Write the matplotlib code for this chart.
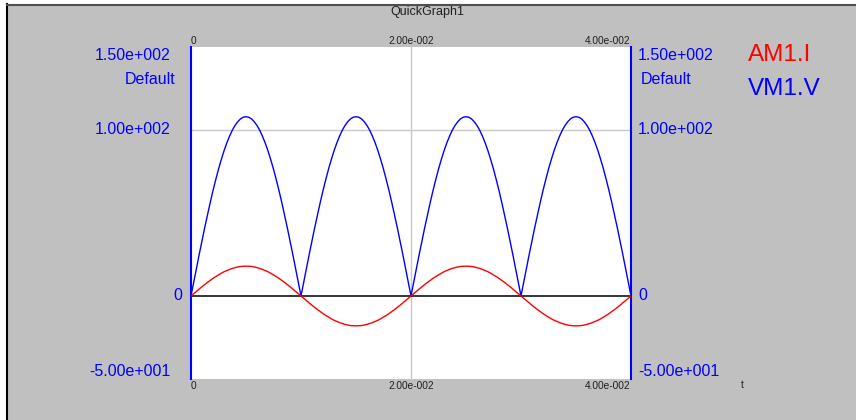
import matplotlib
matplotlib.use("Agg")
import matplotlib.pyplot as plt
from matplotlib.lines import Line2D
from matplotlib.patches import Rectangle

plt.rcParams['font.family'] = ['Liberation Sans', 'DejaVu Sans']

# time samples (s)
t = [i * 0.00025 for i in range(161)]

# VM1.V (full-wave rectified voltage)
vm1_v = [
    0, 8.5, 16.9, 25.2, 33.4, 41.3, 49.0, 56.4, 63.5, 70.1, 76.4, 82.1, 87.4, 92.1, 96.2, 99.8, 102.7, 105.0, 106.7, 107.7, 108.0,
    107.7, 106.7, 105.0, 102.7, 99.8, 96.2, 92.1, 87.4, 82.1, 76.4, 70.1, 63.5, 56.4, 49.0, 41.3, 33.4, 25.2, 16.9, 8.5,
    0, 8.5, 16.9, 25.2, 33.4, 41.3, 49.0, 56.4, 63.5, 70.1, 76.4, 82.1, 87.4, 92.1, 96.2, 99.8, 102.7, 105.0, 106.7, 107.7, 108.0,
    107.7, 106.7, 105.0, 102.7, 99.8, 96.2, 92.1, 87.4, 82.1, 76.4, 70.1, 63.5, 56.4, 49.0, 41.3, 33.4, 25.2, 16.9, 8.5,
    0, 8.5, 16.9, 25.2, 33.4, 41.3, 49.0, 56.4, 63.5, 70.1, 76.4, 82.1, 87.4, 92.1, 96.2, 99.8, 102.7, 105.0, 106.7, 107.7, 108.0,
    107.7, 106.7, 105.0, 102.7, 99.8, 96.2, 92.1, 87.4, 82.1, 76.4, 70.1, 63.5, 56.4, 49.0, 41.3, 33.4, 25.2, 16.9, 8.5,
    0, 8.5, 16.9, 25.2, 33.4, 41.3, 49.0, 56.4, 63.5, 70.1, 76.4, 82.1, 87.4, 92.1, 96.2, 99.8, 102.7, 105.0, 106.7, 107.7, 108.0,
    107.7, 106.7, 105.0, 102.7, 99.8, 96.2, 92.1, 87.4, 82.1, 76.4, 70.1, 63.5, 56.4, 49.0, 41.3, 33.4, 25.2, 16.9, 8.5,
    0,
]

# AM1.I (current)
am1_i = [
    0, 1.4, 2.8, 4.2, 5.6, 6.9, 8.2, 9.4, 10.6, 11.7, 12.7, 13.7, 14.6, 15.3, 16.0, 16.6, 17.1, 17.5, 17.8, 17.9, 18.0,
    17.9, 17.8, 17.5, 17.1, 16.6, 16.0, 15.3, 14.6, 13.7, 12.7, 11.7, 10.6, 9.4, 8.2, 6.9, 5.6, 4.2, 2.8, 1.4,
    0, -1.4, -2.8, -4.2, -5.6, -6.9, -8.2, -9.4, -10.6, -11.7, -12.7, -13.7, -14.6, -15.3, -16.0, -16.6, -17.1, -17.5, -17.8, -17.9, -18.0,
    -17.9, -17.8, -17.5, -17.1, -16.6, -16.0, -15.3, -14.6, -13.7, -12.7, -11.7, -10.6, -9.4, -8.2, -6.9, -5.6, -4.2, -2.8, -1.4,
    0, 1.4, 2.8, 4.2, 5.6, 6.9, 8.2, 9.4, 10.6, 11.7, 12.7, 13.7, 14.6, 15.3, 16.0, 16.6, 17.1, 17.5, 17.8, 17.9, 18.0,
    17.9, 17.8, 17.5, 17.1, 16.6, 16.0, 15.3, 14.6, 13.7, 12.7, 11.7, 10.6, 9.4, 8.2, 6.9, 5.6, 4.2, 2.8, 1.4,
    0, -1.4, -2.8, -4.2, -5.6, -6.9, -8.2, -9.4, -10.6, -11.7, -12.7, -13.7, -14.6, -15.3, -16.0, -16.6, -17.1, -17.5, -17.8, -17.9, -18.0,
    -17.9, -17.8, -17.5, -17.1, -16.6, -16.0, -15.3, -14.6, -13.7, -12.7, -11.7, -10.6, -9.4, -8.2, -6.9, -5.6, -4.2, -2.8, -1.4,
    0,
]

y_ticks = [-50, 0, 100, 150]
y_tick_labels = ["-5.00e+001", "0", "1.00e+002", "1.50e+002"]
x_ticks = [0, 0.02, 0.04]
x_tick_labels = ["0", "2.00e-002", "4.00e-002"]
series_names = ["AM1.I", "VM1.V"]

BG = "#c0c0c0"
BLUE = "#0000ff"
RED = "#ff0000"

W, H = 856, 420
fig = plt.figure(figsize=(W / 100, H / 100), dpi=100)
fig.patch.set_facecolor("white")

# gray panel with border lines (outer frame)
fig.add_artist(Rectangle((8 / W, 0), 1 - 8 / W, 1 - 4 / H, transform=fig.transFigure,
                         facecolor=BG, edgecolor="none", zorder=0))
fig.add_artist(Line2D([7.5 / W, 7.5 / W], [0, 1 - 4 / H], transform=fig.transFigure,
                      color="black", lw=1.5, zorder=1))
fig.add_artist(Line2D([7.5 / W, 1], [1 - 4.5 / H, 1 - 4.5 / H], transform=fig.transFigure,
                      color="#505050", lw=1.5, zorder=1))

left, right = 191 / W, 631 / W
bottom, top = (H - 379) / H, (H - 47) / H
ax = fig.add_axes([left, bottom, right - left, top - bottom])
ax.set_facecolor("white")
ax.set_xlim(0, 0.04)
ax.set_ylim(-50, 150)

# grid lines
ax.axhline(100, color="#c8c8c8", lw=1, zorder=1)
ax.axvline(0.02, color="#c8c8c8", lw=1, zorder=1)
ax.axhline(0, color="black", lw=1.1, zorder=2)

ax.plot(t, vm1_v, color=BLUE, lw=1.0, zorder=3)
ax.plot(t, am1_i, color=RED, lw=1.0, zorder=4)

for s in ["top", "bottom"]:
    ax.spines[s].set_visible(False)
for s in ["left", "right"]:
    ax.spines[s].set_color(BLUE)
    ax.spines[s].set_linewidth(1.5)
ax.set_xticks([])
ax.set_yticks([])

# y tick labels (left and right)
ytrans = ax.get_yaxis_transform()
for v, lab in zip(y_ticks, y_tick_labels):
    dy = 0
    dxl = -20
    if v == 150:
        dy = -8
    elif v == -50:
        dy = 7
    elif v == 0:
        dxl = -9
    ax.annotate(lab, xy=(0, v), xycoords=ytrans, xytext=(dxl, dy), textcoords="offset pixels",
                ha="right", va="center", color=BLUE, fontsize=11.5, annotation_clip=False)
    ax.annotate(lab, xy=(1, v), xycoords=ytrans, xytext=(7, dy), textcoords="offset pixels",
                ha="left", va="center", color=BLUE, fontsize=11.5, annotation_clip=False)
ax.annotate("Default", xy=(0, 150), xycoords=ytrans, xytext=(-15, -32), textcoords="offset pixels",
            ha="right", va="center", color=BLUE, fontsize=11.5, annotation_clip=False)
ax.annotate("Default", xy=(1, 150), xycoords=ytrans, xytext=(10, -32), textcoords="offset pixels",
            ha="left", va="center", color=BLUE, fontsize=11.5, annotation_clip=False)

# x tick labels (top and bottom)
xtrans = ax.get_xaxis_transform()
for v, lab in zip(x_ticks, x_tick_labels):
    ha = "center"
    dx = 0
    if v == 0:
        dx = 2
    if v == 0.04:
        ha = "right"
        dx = -1
    ax.annotate(lab, xy=(v, 1), xycoords=xtrans, xytext=(dx, 6), textcoords="offset pixels",
                ha=ha, va="center", color="#202020", fontsize=7.3, annotation_clip=False)
    ax.annotate(lab, xy=(v, 0), xycoords=xtrans, xytext=(dx, -7), textcoords="offset pixels",
                ha=ha, va="center", color="#202020", fontsize=7.3, annotation_clip=False)

fig.text(742 / W, 1 - 385 / H, "t", ha="center", va="center", fontsize=7.3, color="#202020")
fig.text(427 / W, 1 - 12 / H, "QuickGraph1", ha="center", va="center", fontsize=9, color="#202020")

# legend labels
fig.text(748 / W, 1 - 55 / H, series_names[0], ha="left", va="center", fontsize=17.5, color=RED)
fig.text(748 / W, 1 - 89 / H, series_names[1], ha="left", va="center", fontsize=17.5, color=BLUE)

fig.savefig("out.png", dpi=100, facecolor=fig.get_facecolor())
